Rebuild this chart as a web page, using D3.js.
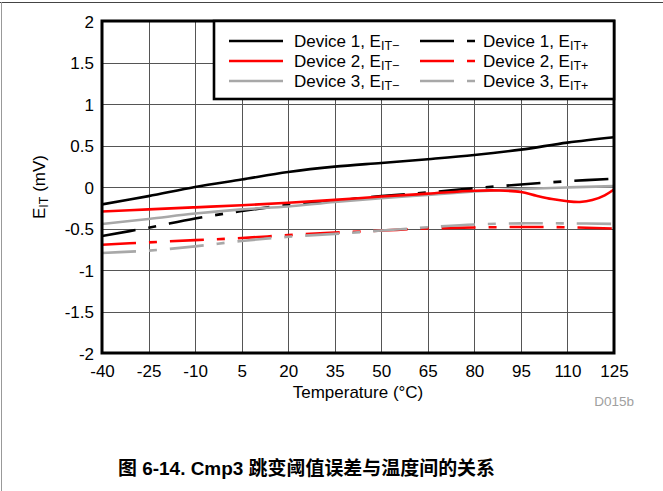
<!DOCTYPE html>
<html><head><meta charset="utf-8">
<script src="https://cdn.jsdelivr.net/npm/d3@7"></script>
<style>body{margin:0;background:#fff}svg{display:block}text{font-family:"Liberation Sans",Arial,sans-serif}</style>
</head><body><svg id="c" width="663" height="491"></svg>
<script>
const temps = [-40,-25,-10,5,20,35,50,65,80,95,110,125];
const d1Minus = [-0.21,-0.11,0.0,0.09,0.18,0.245,0.29,0.335,0.385,0.45,0.535,0.6];
const d1Plus  = [-0.59,-0.49,-0.38,-0.29,-0.215,-0.165,-0.11,-0.065,-0.015,0.03,0.07,0.1];
const d2Temps = [-40,-25,-10,5,20,35,50,65,80,88,95,100,105,110,114,118,122,125];
const d2Minus = [-0.295,-0.27,-0.245,-0.22,-0.19,-0.155,-0.115,-0.08,-0.045,-0.042,-0.06,-0.105,-0.145,-0.172,-0.18,-0.158,-0.1,-0.03];
const d2Plus  = [-0.695,-0.667,-0.64,-0.615,-0.58,-0.55,-0.525,-0.5,-0.488,-0.482,-0.485,-0.5];
const d3Minus = [-0.445,-0.385,-0.32,-0.27,-0.235,-0.18,-0.135,-0.095,-0.055,-0.025,-0.005,0.01];
const d3Plus  = [-0.795,-0.767,-0.715,-0.65,-0.6,-0.565,-0.525,-0.485,-0.452,-0.438,-0.438,-0.445];
const xTicks = [-40,-25,-10,5,20,35,50,65,80,95,110,125];
const yTicks = [2,1.5,1,0.5,0,-0.5,-1,-1.5,-2];
const seriesNames = ["Device 1, E","Device 2, E","Device 3, E"];

const svg = d3.select("#c");
const L=102, R=614, T=21, B=353;
const x = d3.scaleLinear().domain([-40,125]).range([L,R]);
const y = d3.scaleLinear().domain([-2,2]).range([B,T]);

// outer frame
svg.append("line").attr("x1",0).attr("x2",663).attr("y1",2.5).attr("y2",2.5).attr("stroke","#444").attr("stroke-width",1);
svg.append("line").attr("x1",1.5).attr("x2",1.5).attr("y1",2).attr("y2",491).attr("stroke","#999").attr("stroke-width",1);

// grid
const g = svg.append("g");
g.selectAll(".vg").data(xTicks.slice(1,-1)).join("line")
  .attr("x1",d=>Math.round(x(d))+0.5).attr("x2",d=>Math.round(x(d))+0.5)
  .attr("y1",T).attr("y2",B).attr("stroke","#555").attr("stroke-width",1);
g.selectAll(".hg").data(yTicks.slice(1,-1)).join("line")
  .attr("y1",d=>Math.round(y(d))+0.5).attr("y2",d=>Math.round(y(d))+0.5)
  .attr("x1",L).attr("x2",R).attr("stroke","#555").attr("stroke-width",1);

// axes labels via d3 axes
const xAxis = d3.axisBottom(x).tickValues(xTicks).tickSize(0).tickPadding(0).tickFormat(d=>String(d));
const xg = svg.append("g").attr("transform",`translate(0,${B})`).call(xAxis);
xg.select(".domain").remove();
xg.selectAll("text").attr("dy",null).attr("y",24).attr("font-size",17).attr("fill","#000")
  .style("font-family","'Liberation Sans',Arial,sans-serif");
const yAxis = d3.axisLeft(y).tickValues(yTicks).tickSize(0).tickPadding(0).tickFormat(d=>String(d));
const yg = svg.append("g").attr("transform",`translate(${L-8},0)`).call(yAxis);
yg.select(".domain").remove();
yg.selectAll("text").attr("dy","0.36em").attr("font-size",17).attr("fill","#000")
  .style("font-family","'Liberation Sans',Arial,sans-serif");

// curves
const line = d3.line().x(d=>x(d[0])).y(d=>y(d[1])).curve(d3.curveCatmullRom.alpha(0.5));
const DASH = "34,13,8,13";
const series = [
  {t:temps,v:d1Plus,c:"#000",dash:DASH},
  {t:temps,v:d2Plus,c:"#ff0000",dash:DASH},
  {t:temps,v:d3Plus,c:"#a8a8a8",dash:DASH},
  {t:temps,v:d3Minus,c:"#a8a8a8",dash:null},
  {t:temps,v:d1Minus,c:"#000",dash:null},
  {t:d2Temps,v:d2Minus,c:"#ff0000",dash:null}
];
svg.append("defs").append("clipPath").attr("id","clip").append("rect").attr("x",L).attr("y",T).attr("width",R-L).attr("height",B-T);
const cg = svg.append("g").attr("clip-path","url(#clip)");
series.forEach(s=>{
  cg.append("path").attr("d",line(s.t.map((t,i)=>[t,s.v[i]])))
    .attr("fill","none").attr("stroke",s.c).attr("stroke-width",2.6)
    .attr("stroke-dasharray",s.dash);
});

// plot border
svg.append("rect").attr("x",L).attr("y",T).attr("width",R-L).attr("height",B-T)
  .attr("fill","none").attr("stroke","#000").attr("stroke-width",3);

// legend
const lg = svg.append("g");
lg.append("rect").attr("x",214).attr("y",T).attr("width",R-214).attr("height",78)
  .attr("fill","#fff").attr("stroke","#000").attr("stroke-width",2.6);
const colors = ["#000","#ff0000","#a8a8a8"];
const rows = [41,61,81];
seriesNames.forEach((n,i)=>{
  [[229,283,294,"IT\u2212",null],[420,475,483,"IT+",DASH]].forEach(([x1,x2,tx,sub,dash])=>{
    lg.append("line").attr("x1",x1).attr("x2",x2).attr("y1",rows[i]).attr("y2",rows[i])
      .attr("stroke",colors[i]).attr("stroke-width",2.6).attr("stroke-dasharray",dash);
    const t = lg.append("text").attr("x",tx).attr("y",rows[i]+6).attr("font-size",17).attr("fill","#000");
    t.append("tspan").text(n);
    t.append("tspan").attr("font-size",12.5).attr("dy",3).text(sub);
  });
});

// axis titles
svg.append("text").attr("x",(L+R)/2).attr("y",398).attr("text-anchor","middle").attr("font-size",17).text("Temperature (\u00b0C)");
const yt = svg.append("text").attr("transform","translate(45,187) rotate(-90)").attr("text-anchor","middle").attr("font-size",17);
yt.append("tspan").text("E");
yt.append("tspan").attr("font-size",12.5).attr("dy",3).text("IT");
yt.append("tspan").attr("dy",-3).text(" (mV)");
svg.append("text").attr("x",634).attr("y",406).attr("text-anchor","end").attr("font-size",13.5).attr("fill","#a0a0a0").text("D015b");

// caption
svg.append("text").attr("x",118).attr("y",475).attr("font-size",19).attr("font-weight","bold")
  .attr("textLength",377).attr("lengthAdjust","spacingAndGlyphs")
  .style("font-family","'Liberation Sans','Noto Sans CJK SC',sans-serif")
  .text("图 6-14. Cmp3 跳变阈值误差与温度间的关系");
</script></body></html>
